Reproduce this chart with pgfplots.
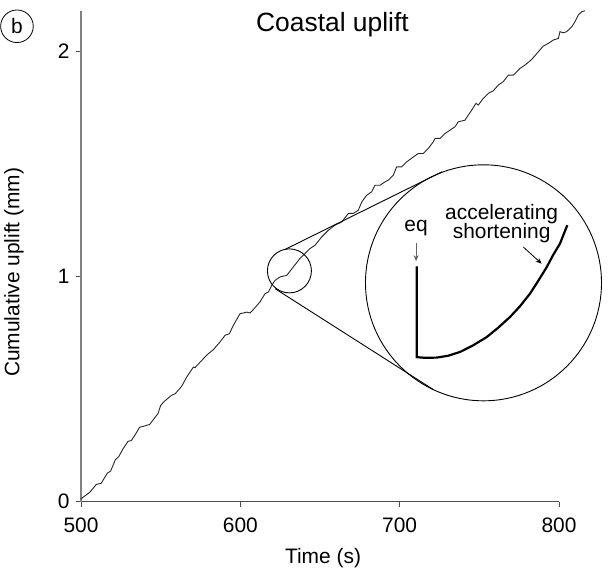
\documentclass[border=0pt]{standalone}
\usepackage{pgfplots}
\pgfplotsset{compat=1.18}
\usepackage{fontspec}
\setmainfont{Liberation Sans}
\usetikzlibrary{arrows.meta}
\begin{document}
\begin{tikzpicture}
\begin{axis}[
  scale only axis, width=478bp, height=491bp,
  xmin=500, xmax=800, ymin=0, ymax=2.18,
  axis x line*=bottom, axis y line*=left,
  xtick={500,600,700,800}, ytick={0,1,2},
  tick align=outside, major tick length=5bp,
  tick style={black!70, line width=0.8bp},
  x axis line style={black!70, line width=1bp},
  y axis line style={black!50, line width=1.2bp},
  ticklabel style={font=\fontsize{21}{25}\selectfont},
  xticklabel style={yshift=-8bp},
  yticklabel style={xshift=-3bp},
  /pgf/number format/assume math mode=true,
  clip=false,
]
\addplot[black!85, line width=0.9bp] coordinates {
(500,0.010) (501.3,0.019) (505.5,0.041) (509.6,0.076) (512.7,0.081) (516.5,0.126) (518.6,0.135)
(521.5,0.185) (523.7,0.200) (526.4,0.234) (529.5,0.267) (531.6,0.271) (533.7,0.293) (536.8,0.330)
(538.9,0.333) (541.0,0.338) (543.1,0.342) (546.3,0.372) (548.3,0.390) (550.0,0.427) (552.5,0.446)
(556.7,0.471) (559.2,0.479) (560.9,0.493) (563.2,0.512) (566.3,0.552) (570.5,0.597) (571.5,0.594)
(576.8,0.634) (579.9,0.656) (583.0,0.674) (587.2,0.708) (590.4,0.738) (593.1,0.745) (595.6,0.782)
(599.8,0.834) (601.9,0.837) (604.0,0.841) (606.1,0.837) (608.1,0.852) (612.3,0.886) (615.5,0.923)
(617.6,0.930) (619.7,0.960) (621.8,0.982) (624.9,0.997) (629.1,1.004) (633.2,1.041) (637.4,1.079)
(643.7,1.123) (646.9,1.138) (651.1,1.175) (655.2,1.204) (659.4,1.227) (663.6,1.241) (667.8,1.279)
(670.9,1.279) (674.0,1.293) (676.2,1.330) (679.3,1.360) (682.4,1.375) (684.5,1.404) (687.6,1.404)
(690.8,1.419) (692.9,1.427) (696.0,1.449) (698.1,1.486) (701.3,1.486) (704.4,1.508) (708.6,1.530)
(711.7,1.545) (714.8,1.545) (718.0,1.568) (721.1,1.597) (722.2,1.612) (725.3,1.612) (728.5,1.634)
(731.6,1.649) (734.7,1.664) (736.8,1.686) (741.0,1.693) (743.1,1.716) (745.2,1.738) (747.9,1.768)
(749.3,1.760) (752.5,1.790) (755.6,1.812) (758.8,1.824) (761.9,1.849) (765.0,1.864) (768.2,1.893)
(771.3,1.893) (775.5,1.923) (778.7,1.938) (782.9,1.963) (790.1,2.022) (793.3,2.034) (796.4,2.049)
(799.6,2.056) (800.6,2.086) (802.7,2.081) (804.8,2.086) (808.0,2.108) (810.0,2.130) (812.1,2.160)
(814.3,2.175) (816.3,2.179)
};
% inset (zoomed view)
\addplot[black, line width=2.2bp] coordinates {
(710.7,1.044) (710.7,0.641) (715.9,0.638) (723.2,0.639) (730.3,0.647) (737.9,0.664) (746.0,0.693)
(754.6,0.730) (761.7,0.771) (769.2,0.819) (775.5,0.867) (781.8,0.923) (786.8,0.978) (792.3,1.041)
(796.2,1.093) (800.6,1.145) (805.2,1.227)
};
\draw[black, line width=0.9bp] (axis cs:630.8,1.024) circle[radius=22bp];
\draw[black, line width=0.9bp] (axis cs:752.6,0.971) circle[radius=118bp];
\draw[black, line width=0.9bp] (axis cs:628.0,1.119) -- (axis cs:726.6,1.464);
\draw[black, line width=0.9bp] (axis cs:621.8,0.945) -- (axis cs:720.9,0.498);
\node[font=\fontsize{21}{25}\selectfont] at (axis cs:710.3,1.212) {eq};
\draw[black!60, line width=0.8bp, -{Stealth[length=6bp,width=5bp]}] (axis cs:710.3,1.147) -- (axis cs:710.3,1.067);
\node[font=\fontsize{21}{20}\selectfont, align=center] at (axis cs:764.0,1.234) {accelerating\\shortening};
\draw[black, line width=0.8bp, -{Stealth[length=6bp,width=5bp]}] (axis cs:777.6,1.130) -- (axis cs:789.1,1.056);
\node[font=\fontsize{26.5}{30}\selectfont, anchor=base] at (axis cs:657.8,2.086) {Coastal uplift};
\node[circle, draw, line width=0.8bp, minimum size=32.6bp, inner sep=0pt, font=\fontsize{21}{24}\selectfont] at (axis cs:459.8,2.110) {b};
\node[rotate=90, font=\fontsize{21}{24}\selectfont] at (axis cs:457.95,1.018) {Cumulative uplift (mm)};
\node[font=\fontsize{21}{24}\selectfont] at (axis cs:651.9,-0.253) {Time (s)};
\path (axis cs:449.16,-0.311) rectangle (axis cs:832.0,2.2267);
\end{axis}
\end{tikzpicture}
\end{document}
